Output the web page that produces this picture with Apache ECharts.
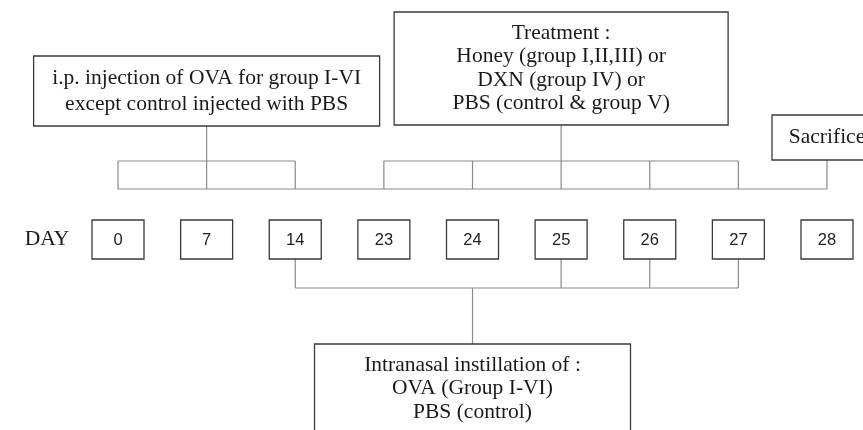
<!DOCTYPE html>
<html>
<head>
<meta charset="utf-8">
<script src="https://cdn.jsdelivr.net/npm/echarts@6/dist/echarts.min.js"></script>
<style>
  html, body { margin: 0; padding: 0; background: #ffffff; }
  #myChart { width: 863px; height: 430px; }
</style>
</head>
<body>
<div id="myChart"></div>
<script>
// timeline days
const days = ['0', '7', '14', '23', '24', '25', '26', '27', '28']

// which days each step covers, and the day its label hangs from
const ipDays = ['0', '7', '14']
const ipHub = '7'
const ipText = ['i.p. injection of OVA for group I-VI', 'except control injected with PBS']

const treatDays = ['23', '24', '25', '26', '27']
const treatHub = '25'
const treatText = ['Treatment :', 'Honey (group I,II,III) or', 'DXN (group IV) or', 'PBS (control & group V)']

const sacrificeDays = ['28']
const sacrificeHub = '28'
const sacrificeText = ['Sacrifice']

const instillDays = ['14', '25', '26', '27']
const instillHub = '24'
const instillText = ['Intranasal instillation of :', 'OVA (Group I-VI)', 'PBS (control)']

// layout
const SERIF = '"Liberation Serif", "Times New Roman", serif'
const SANS = '"Liberation Sans", Arial, sans-serif'
const LINE = '#8a8a8a'
const BORDER = '#3a3a3a'
const FONT = 21.5
const dayBox = { w: 52, h: 39, top: 220 }
const topBracket = { top: 161, base: 189 }
const bottomBracket = { y: 288 }

const events = [
  { days: ipDays, hub: ipHub, text: ipText, side: 'top', box: { w: 346, top: 56, bottom: 126 }, lh: 26 },
  { days: treatDays, hub: treatHub, text: treatText, side: 'top', box: { w: 334, top: 12, bottom: 125 }, lh: 23.5 },
  { days: sacrificeDays, hub: sacrificeHub, text: sacrificeText, side: 'top', box: { w: 110, top: 115, bottom: 160 }, lh: 23.5 },
  { days: instillDays, hub: instillHub, text: instillText, side: 'bottom', box: { w: 316, top: 344, bottom: 450 }, lh: 23.5 }
]

const idx = d => days.indexOf(d)

function line (x1, y1, x2, y2) {
  return { type: 'line', shape: { x1, y1, x2, y2 }, style: { stroke: LINE, lineWidth: 1.2 } }
}

function labelBox (cx, box, lines, lh) {
  const top = box.top
  const h = box.bottom - box.top
  const textY = box.side === 'bottom' ? top + 21 + (lines.length - 1) * lh / 2 : top + h / 2
  return [
    { type: 'rect', shape: { x: cx - box.w / 2, y: top, width: box.w, height: h }, style: { fill: '#fff', stroke: BORDER, lineWidth: 1.3 } },
    { type: 'text', style: { text: lines.join('\n'), x: cx, y: textY, align: 'center', verticalAlign: 'middle', fontFamily: SERIF, fontSize: FONT, lineHeight: lh, fill: '#1a1a1a' } }
  ]
}

let myChart = echarts.init(document.getElementById('myChart'))
myChart.setOption({
  animation: false,
  grid: { left: 118, right: 36, top: 0, bottom: 0 },
  xAxis: { type: 'category', data: days, boundaryGap: false, show: false },
  yAxis: { type: 'value', min: 0, max: 1, show: false },
  series: [
    {
      // brackets and step labels
      type: 'custom',
      clip: false,
      silent: true,
      data: events.map((e, i) => [idx(e.hub), i]),
      renderItem (params, api) {
        const e = events[params.dataIndex]
        const xs = e.days.map(d => api.coord([idx(d), 0])[0])
        const hx = api.coord([idx(e.hub), 0])[0]
        const children = []
        if (e.side === 'top') {
          if (xs.length > 1) {
            children.push(line(xs[0], topBracket.top, xs[xs.length - 1], topBracket.top))
            xs.forEach(x => children.push(line(x, topBracket.top, x, topBracket.base)))
            children.push(line(hx, e.box.bottom, hx, topBracket.top))
          } else {
            children.push(line(hx, e.box.bottom, hx, topBracket.base))
          }
        } else {
          const y = bottomBracket.y
          children.push(line(xs[0], y, xs[xs.length - 1], y))
          xs.forEach(x => children.push(line(x, dayBox.top + dayBox.h, x, y)))
          children.push(line(hx, y, hx, e.box.top))
        }
        children.push(...labelBox(hx, Object.assign({ side: e.side }, e.box), e.text, e.lh))
        return { type: 'group', children }
      }
    },
    {
      // common baseline under the top brackets
      type: 'custom',
      clip: false,
      silent: true,
      data: [[0, 0]],
      renderItem (params, api) {
        const x1 = api.coord([0, 0])[0]
        const x2 = api.coord([days.length - 1, 0])[0]
        return line(x1, topBracket.base, x2, topBracket.base)
      }
    },
    {
      // day boxes
      type: 'custom',
      clip: false,
      silent: true,
      data: days.map((d, i) => [i, 0]),
      renderItem (params, api) {
        const x = api.coord([api.value(0), 0])[0]
        const children = [
          { type: 'rect', shape: { x: x - dayBox.w / 2, y: dayBox.top, width: dayBox.w, height: dayBox.h }, style: { fill: '#fff', stroke: BORDER, lineWidth: 1.3 } },
          { type: 'text', style: { text: days[params.dataIndex], x, y: dayBox.top + dayBox.h / 2 + 1, align: 'center', verticalAlign: 'middle', fontFamily: SANS, fontSize: 16.5, fill: '#222' } }
        ]
        if (params.dataIndex === 0) {
          children.push({ type: 'text', style: { text: 'DAY', x: x - 71, y: dayBox.top + dayBox.h / 2, align: 'center', verticalAlign: 'middle', fontFamily: SERIF, fontSize: FONT, fill: '#1a1a1a' } })
        }
        return { type: 'group', children }
      }
    }
  ]
})
</script>
</body>
</html>
